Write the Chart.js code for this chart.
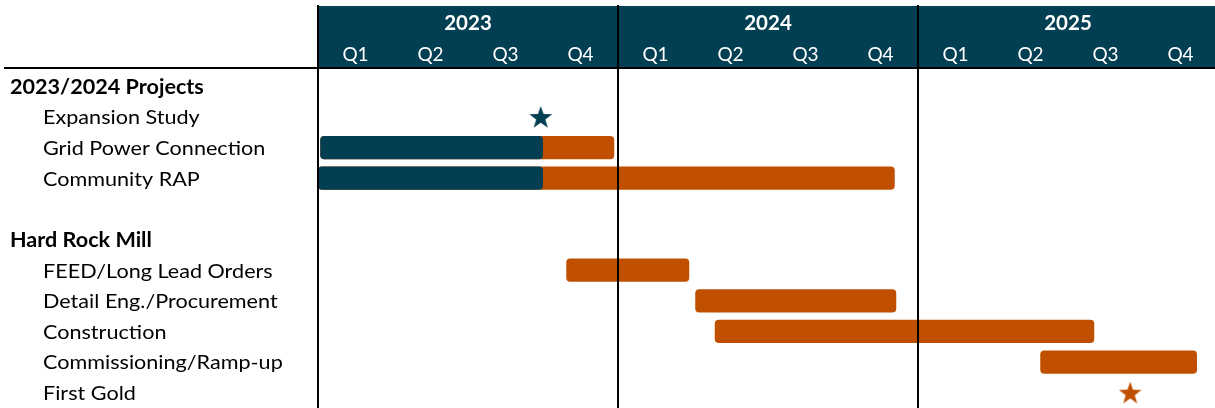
<!DOCTYPE html>
<html lang="en">
<head>
  <meta charset="UTF-8">
  <title>Project Schedule</title>
  <style>
    html, body { margin: 0; padding: 0; background: #fff; overflow: hidden; }
    #wrap { width: 1218px; height: 408px; }
  </style>
  <script src="https://cdn.jsdelivr.net/npm/chart.js"></script>
</head>
<body>
  <div id="wrap"><canvas id="chart"></canvas></div>

  <script>
    // rows of the schedule (blank row is a spacer)
    const rows = ['2023/2024 Projects', 'Expansion Study', 'Grid Power Connection', 'Community RAP', '',
      'Hard Rock Mill', 'FEED/Long Lead Orders', 'Detail Eng./Procurement', 'Construction',
      'Commissioning/Ramp-up', 'First Gold'];
    const groupRows = ['2023/2024 Projects', 'Hard Rock Mill'];
    const years = ['2023', '2024', '2025'];
    const quarters = ['Q1', 'Q2', 'Q3', 'Q4'];

    // time in quarters from start of 2023
    const doneTasks = ['Grid Power Connection', 'Community RAP'];
    const doneStart = [0.03, 0];
    const doneEnd = [3.0, 3.0];

    const planTasks = ['Grid Power Connection', 'Community RAP', 'FEED/Long Lead Orders',
      'Detail Eng./Procurement', 'Construction', 'Commissioning/Ramp-up'];
    const planStart = [0.03, 0, 3.31, 5.03, 5.29, 9.63];
    const planEnd = [3.95, 7.69, 4.95, 7.71, 10.35, 11.72];

    const milestoneTasks = ['Expansion Study', 'First Gold'];
    const milestoneAt = [2.97, 10.83];

    const TEAL = '#033f52';
    const ORANGE = '#c05000';
    const FONT = 'Lato';

    function makeStar(color) {
      const c = document.createElement('canvas');
      c.width = 26; c.height = 26;
      const g = c.getContext('2d');
      g.fillStyle = color;
      g.beginPath();
      for (let i = 0; i < 10; i++) {
        const r = i % 2 ? 4.8 : 12;
        const a = -Math.PI / 2 + i * Math.PI / 5;
        g.lineTo(13 + r * Math.cos(a), 14 + r * Math.sin(a));
      }
      g.closePath();
      g.fill();
      return c;
    }

    // text a little wider than Lato, like the original
    function wideText(ctx, txt, px, py, sx) {
      ctx.save();
      ctx.translate(px, py);
      ctx.scale(sx, 1);
      ctx.fillText(txt, 0, 0);
      ctx.restore();
    }

    // header band, year lines and row labels
    const gantt = {
      id: 'gantt',
      beforeDatasetsDraw(chart) {
        const { ctx, chartArea: a, scales: { x, y } } = chart;
        ctx.save();
        // header
        ctx.fillStyle = TEAL;
        ctx.fillRect(a.left, 6, chart.width - a.left, 62);
        ctx.fillStyle = '#fff';
        ctx.textAlign = 'center';
        ctx.textBaseline = 'middle';
        years.forEach((yr, i) => {
          ctx.font = 'bold 20.5px ' + FONT;
          ctx.fillText(yr, x.getPixelForValue(i * 4 + 2), 23);
          ctx.font = '19px ' + FONT;
          quarters.forEach((q, j) => {
            ctx.fillText(q, x.getPixelForValue(i * 4 + j + 0.5), 55);
          });
        });
        // row labels
        ctx.fillStyle = '#000';
        ctx.textAlign = 'left';
        rows.forEach((r, i) => {
          if (!r) return;
          const grp = groupRows.includes(r);
          ctx.font = (grp ? 'bold ' : '') + '20px ' + FONT;
          wideText(ctx, r, grp ? 10 : 43, y.getPixelForValue(i) + 1, 1.08);
        });
        ctx.restore();
      },
      afterDatasetsDraw(chart) {
        const { ctx, chartArea: a, scales: { x } } = chart;
        ctx.save();
        ctx.strokeStyle = '#000';
        ctx.lineWidth = 2;
        ctx.beginPath();
        ctx.moveTo(4, 68);
        ctx.lineTo(chart.width, 68);
        for (let i = 0; i < years.length; i++) {
          const px = Math.round(x.getPixelForValue(i * 4));
          ctx.moveTo(px, 5);
          ctx.lineTo(px, a.bottom);
        }
        ctx.stroke();
        ctx.restore();
      }
    };

    new Chart(document.getElementById('chart'), {
      type: 'bar',
      data: {
        datasets: [
          {
            type: 'scatter',
            data: milestoneTasks.map((t, i) => ({ x: milestoneAt[i], y: t })),
            pointStyle: [makeStar(TEAL), makeStar(ORANGE)],
            pointRadius: 12
          },
          {
            data: doneTasks.map((t, i) => ({ y: t, x: [doneStart[i], doneEnd[i]] })),
            backgroundColor: TEAL,
            borderRadius: 4,
            borderSkipped: false
          },
          {
            data: planTasks.map((t, i) => ({ y: t, x: [planStart[i], planEnd[i]] })),
            backgroundColor: ORANGE,
            borderRadius: 4,
            borderSkipped: false
          }
        ]
      },
      options: {
        indexAxis: 'y',
        responsive: true,
        maintainAspectRatio: false,
        animation: false,
        layout: { autoPadding: false, padding: { left: 318, top: 71, right: 0, bottom: 0 } },
        datasets: { bar: { grouped: false, barPercentage: 0.76, categoryPercentage: 1 } },
        scales: {
          x: { type: 'linear', min: 0, max: 12, display: false },
          y: { type: 'category', labels: rows, offset: true, display: false }
        },
        plugins: { legend: { display: false }, tooltip: { enabled: false } }
      },
      plugins: [gantt]
    });
  </script>
</body>
</html>
